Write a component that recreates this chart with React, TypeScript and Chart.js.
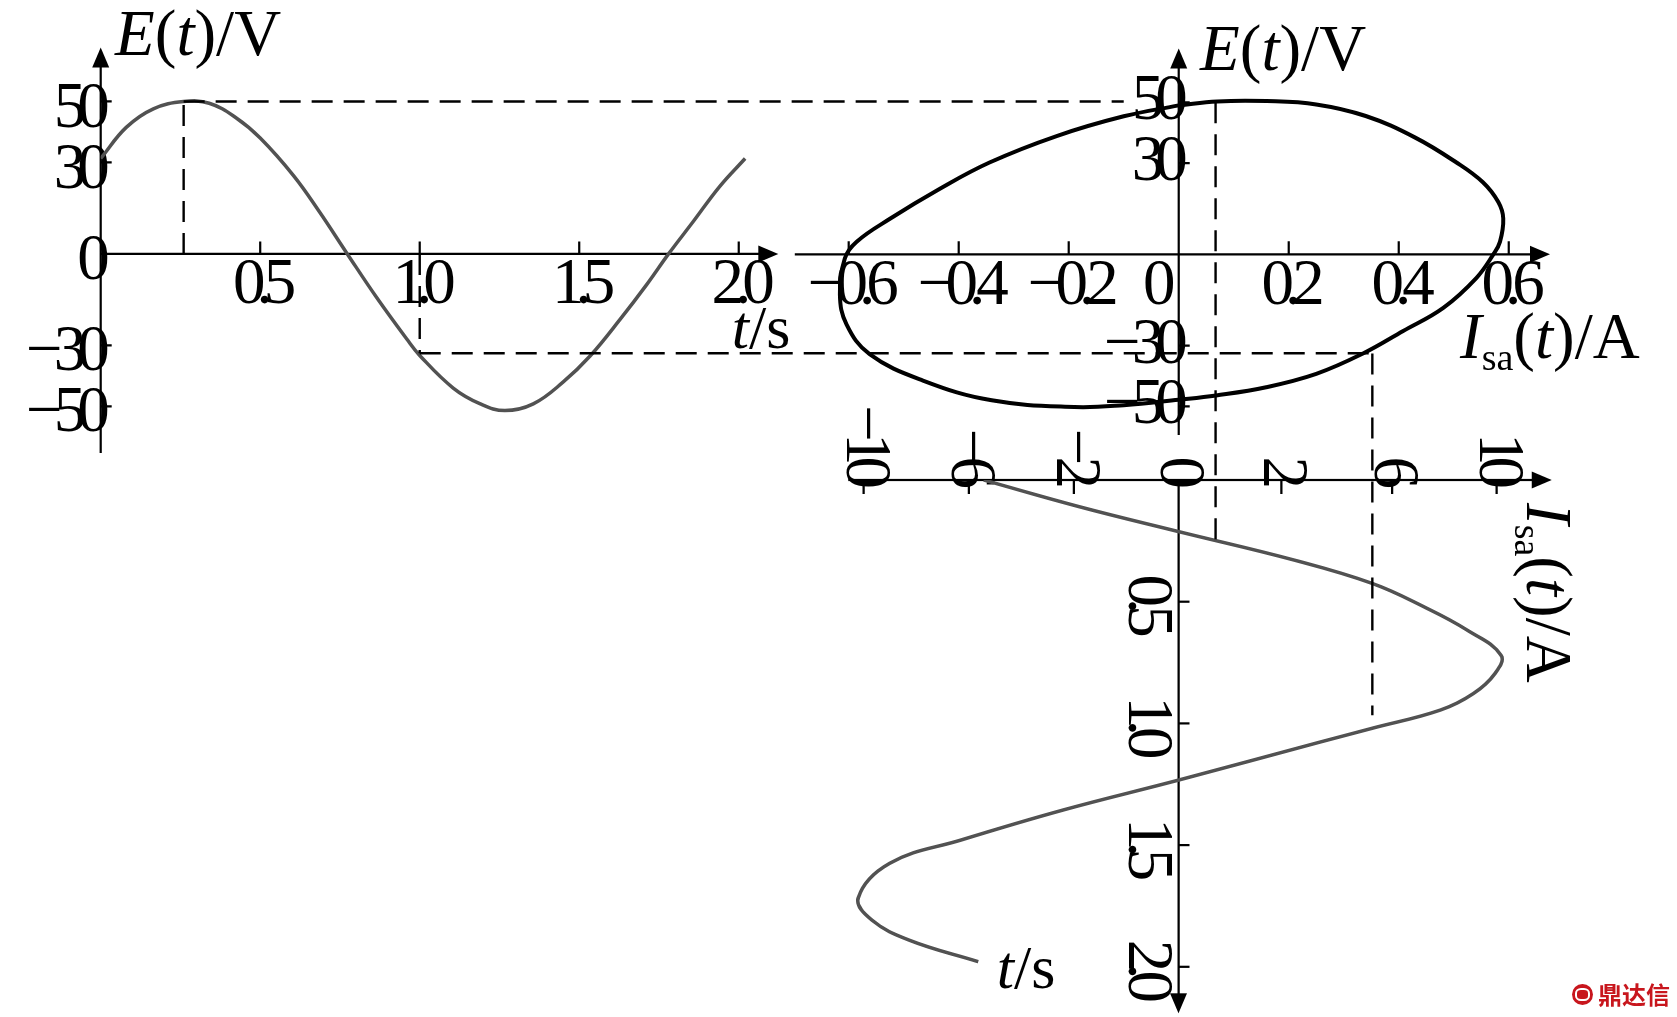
import React, { useEffect, useRef } from 'react';
import { Chart, registerables } from 'chart.js';

Chart.register(...registerables);

// ---------------- data ----------------
// Left panel: E(t) against t
const eTime = [0, 0.08, 0.165, 0.26, 0.34, 0.425, 0.5, 0.605, 0.685, 0.773, 0.865, 0.96, 1.0, 1.105, 1.19, 1.267, 1.356, 1.45, 1.534, 1.628, 1.712, 1.78, 1.858, 1.94, 2.02];
const eVolt = [31.3, 41.5, 47.6, 50, 49.4, 44.6, 38, 25.6, 13.9, 0, -14.3, -28, -33.3, -44, -49.2, -51.4, -49.2, -42, -33.5, -21.5, -10, 0, 10.7, 22.1, 31.3];

// Middle panel: loop E(t) against Isa(t)
const loopCurrent = [0, 0.07, 0.16, 0.25, 0.34, 0.43, 0.505, 0.553, 0.581, 0.59, 0.584, 0.572, 0.541, 0.481, 0.408, 0.335, 0.25, 0.159, 0.068, 0, -0.1, -0.19, -0.34, -0.465, -0.562, -0.604, -0.616, -0.607, -0.586, -0.525, -0.435, -0.344, -0.222, -0.1, 0];
const loopVolt = [49, 50.3, 50.4, 49.3, 45.5, 38.4, 30.2, 23.7, 17.2, 11.8, 4.1, 0, -7.8, -17.6, -25.2, -32.6, -39.3, -43.7, -46.4, -47.8, -49.6, -50.2, -48, -41.5, -32.8, -23, -13.2, -1.3, 4.1, 11.7, 21.5, 30.2, 38.9, 45.4, 49];

// Bottom panel: Isa(t) against t (time runs downward)
const isaTime = [0, 0.11, 0.212, 0.329, 0.425, 0.52, 0.616, 0.72, 0.795, 0.877, 0.945, 1.02, 1.078, 1.233, 1.356, 1.479, 1.575, 1.717, 1.808, 1.89, 1.979];
const isaCurrent = [-0.354, -0.18, 0, 0.21, 0.352, 0.445, 0.524, 0.586, 0.575, 0.536, 0.476, 0.352, 0.255, 0, -0.21, -0.395, -0.525, -0.582, -0.557, -0.49, -0.364];

// Tick values and labels
const leftXTicks = [0.5, 1.0, 1.5, 2.0];
const leftXLabels = ['0.5', '1.0', '1.5', '2.0'];
const leftYTicks = [50, 30, 0, -30, -50];
const leftYLabels = ['50', '30', '0', '−30', '−50'];
const midXTicks = [-0.6, -0.4, -0.2, 0.2, 0.4, 0.6];
const midXLabels = ['−0.6', '−0.4', '−0.2', '0.2', '0.4', '0.6'];
const midOriginTicks = [0];
const midOriginLabels = ['0'];
const midYTicks = [50, 30, -30, -50];
const midYLabels = ['50', '30', '−30', '−50'];
const botITicks = [-0.572, -0.381, -0.19, 0, 0.187, 0.388, 0.578];
const botILabels = ['−10', '−6', '−2', '0', '2', '6', '10'];
const botTTicks = [0.5, 1.0, 1.5, 2.0];
const botTLabels = ['0.5', '1.0', '1.5', '2.0'];

// Dashed guide lines
const guideTime = [0.26, 1.0];
const guideVolt = [50, -32.6];
const guideStopCurrent = [-0.1, 0.352];
const guideCurrent = [0.067, 0.352];
const guideEndTime = [0.244, 0.966];

// ---------------- layout ----------------
const PAGE_W = 1677;
const PAGE_H = 1017;
const BOT_W = 617; // unrotated width (time direction)
const BOT_H = 887; // unrotated height (current direction)
const BOT_LEFT = 1677;
const BOT_TOP = 400;

const SERIF = "'Liberation Serif', 'Times New Roman', serif";
const TICK_FONT = { family: SERIF, size: 65, lineHeight: 1 };
const CURVE_GRAY = '#525252';

type AxesCfg = {
  xFrom: number; xTo: number; yFrom: number; yTo: number;
  xTicks: number[]; yTicks: number[]; xTickLen: number; yTickLen: number;
};

const ARROW_LEN = 20;
const ARROW_HALF = 8.5;

function makeAxes(id: string, cfg: AxesCfg) {
  return {
    id,
    beforeDraw(chart: any) {
      chart.ctx.letterSpacing = '-9px';
    },
    beforeDatasetsDraw(chart: any) {
      const ctx = chart.ctx;
      const xs = chart.scales.x;
      const ys = chart.scales.y;
      const axisY = ys.getPixelForValue(0);
      const axisX = xs.getPixelForValue(0);
      const xa = xs.getPixelForValue(cfg.xFrom);
      const xb = xs.getPixelForValue(cfg.xTo);
      const ya = ys.getPixelForValue(cfg.yFrom);
      const yb = ys.getPixelForValue(cfg.yTo);
      ctx.save();
      ctx.setLineDash([]);
      ctx.strokeStyle = '#000';
      ctx.fillStyle = '#000';
      ctx.lineWidth = 2.2;
      ctx.beginPath();
      ctx.moveTo(xa, axisY);
      ctx.lineTo(xb - ARROW_LEN + 1, axisY);
      ctx.moveTo(axisX, ya);
      ctx.lineTo(axisX, yb + ARROW_LEN - 1);
      for (const v of cfg.xTicks) {
        if (v === 0) continue;
        const p = xs.getPixelForValue(v);
        ctx.moveTo(p, axisY);
        ctx.lineTo(p, axisY - cfg.xTickLen);
      }
      for (const v of cfg.yTicks) {
        if (v === 0) continue;
        const p = ys.getPixelForValue(v);
        ctx.moveTo(axisX, p);
        ctx.lineTo(axisX + cfg.yTickLen, p);
      }
      ctx.stroke();
      ctx.beginPath();
      ctx.moveTo(xb, axisY);
      ctx.lineTo(xb - ARROW_LEN, axisY - ARROW_HALF);
      ctx.lineTo(xb - ARROW_LEN, axisY + ARROW_HALF);
      ctx.closePath();
      ctx.fill();
      ctx.beginPath();
      ctx.moveTo(axisX, yb);
      ctx.lineTo(axisX - ARROW_HALF, yb + ARROW_LEN);
      ctx.lineTo(axisX + ARROW_HALF, yb + ARROW_LEN);
      ctx.closePath();
      ctx.fill();
      ctx.restore();
    },
  };
}

function tickScale(min: number, max: number, position: any, vals: number[], labels: string[], extra: any = {}) {
  return {
    type: 'linear',
    min,
    max,
    position,
    grid: { display: false, drawTicks: false },
    border: { display: false },
    afterBuildTicks: (axis: any) => {
      axis.ticks = vals.map((v) => ({ value: v }));
    },
    ticks: {
      autoSkip: false,
      maxRotation: 0,
      minRotation: 0,
      color: '#000',
      font: TICK_FONT,
      callback: (_v: any, i: number) => labels[i],
      ...extra,
    },
  };
}

function baseOptions(padding: any, scales: any) {
  return {
    responsive: false,
    animation: false,
    devicePixelRatio: 1,
    events: [],
    layout: { padding },
    plugins: { legend: { display: false }, tooltip: { enabled: false }, title: { display: false } },
    scales,
  };
}

const pts = (xs: number[], ys: number[]) => xs.map((x, i) => ({ x, y: ys[i] }));

export default function App() {
  const leftRef = useRef<HTMLCanvasElement>(null);
  const midRef = useRef<HTMLCanvasElement>(null);
  const botRef = useRef<HTMLCanvasElement>(null);

  useEffect(() => {
    // ---------- left chart ----------
    const L = { left: 100.7, right: 778.3, top: 45, bottom: 453 };
    const leftX = [0, 2.124];
    const leftY = [-65.3, 67.7];
    const left = new Chart(leftRef.current as HTMLCanvasElement, {
      type: 'scatter',
      data: {
        datasets: [{
          data: pts(eTime, eVolt),
          showLine: true,
          borderColor: CURVE_GRAY,
          borderWidth: 3.5,
          pointRadius: 0,
          tension: 0.4,
        }],
      },
      options: baseOptions(
        { left: L.left, right: PAGE_W - L.right, top: L.top, bottom: PAGE_H - L.bottom },
        {
          x: tickScale(leftX[0], leftX[1], { y: 0 }, leftXTicks, leftXLabels, { padding: 0 }),
          y: tickScale(leftY[0], leftY[1], { x: 0 }, leftYTicks, leftYLabels, { padding: 15, labelOffset: 8 }),
        }
      ) as any,
      plugins: [makeAxes('axesLeft', {
        xFrom: leftX[0], xTo: leftX[1], yFrom: leftY[0], yTo: leftY[1],
        xTicks: leftXTicks, yTicks: leftYTicks, xTickLen: 12.5, yTickLen: 11,
      })],
    } as any);

    // ---------- bottom chart (drawn unrotated, rotated 90deg by CSS) ----------
    const B = { left: 80, right: 613.3, top: 125.3, bottom: 828.7 };
    const botX = [0, 2.191];
    const botY = [-0.6, 0.678];
    const bottom = new Chart(botRef.current as HTMLCanvasElement, {
      type: 'scatter',
      data: {
        datasets: [{
          data: pts(isaTime, isaCurrent),
          showLine: true,
          borderColor: CURVE_GRAY,
          borderWidth: 3.5,
          pointRadius: 0,
          tension: 0.4,
        }],
      },
      options: baseOptions(
        { left: B.left, right: BOT_W - B.right, top: B.top, bottom: BOT_H - B.bottom },
        {
          x: tickScale(botX[0], botX[1], { y: 0 }, botTTicks, botTLabels, { padding: 0 }),
          y: tickScale(botY[0], botY[1], { x: 0 }, botITicks, botILabels, { padding: 16 }),
        }
      ) as any,
      plugins: [makeAxes('axesBottom', {
        xFrom: botX[0], xTo: botX[1], yFrom: botY[0], yTo: botY[1],
        xTicks: botTTicks, yTicks: botITicks, xTickLen: 11, yTickLen: 14,
      })],
    } as any);

    // ---------- middle chart (loop) with dashed guides ----------
    const M = { left: 794.8, right: 1550, top: 45, bottom: 435 };
    const midX = [-0.698, 0.675];
    const midY = [-59.4, 67.7];
    const guides = {
      id: 'guides',
      afterDatasetsDraw(chart: any) {
        const ctx = chart.ctx;
        const lx = left.scales.x;
        const ly = left.scales.y;
        const mx = chart.scales.x;
        const my = chart.scales.y;
        const bx = bottom.scales.x;
        ctx.save();
        ctx.strokeStyle = '#000';
        ctx.lineWidth = 2.4;
        ctx.setLineDash([21, 11]);
        for (let i = 0; i < guideTime.length; i++) {
          const x1 = lx.getPixelForValue(guideTime[i]);
          const y0 = ly.getPixelForValue(0);
          const y1 = ly.getPixelForValue(guideVolt[i]);
          const x2 = mx.getPixelForValue(guideStopCurrent[i]);
          const x3 = mx.getPixelForValue(guideCurrent[i]);
          const y3 = my.getPixelForValue(guideVolt[i]);
          const y4 = BOT_TOP + bx.getPixelForValue(guideEndTime[i]);
          ctx.beginPath();
          ctx.moveTo(x1, y0);
          ctx.lineTo(x1, y1);
          ctx.stroke();
          ctx.beginPath();
          ctx.moveTo(x1, y1);
          ctx.lineTo(x2, y1);
          ctx.stroke();
          ctx.beginPath();
          ctx.moveTo(x3, y3);
          ctx.lineTo(x3, y4);
          ctx.stroke();
        }
        ctx.restore();
      },
    };
    const middle = new Chart(midRef.current as HTMLCanvasElement, {
      type: 'scatter',
      data: {
        datasets: [{
          data: pts(loopCurrent, loopVolt),
          showLine: true,
          borderColor: '#000',
          borderWidth: 4,
          pointRadius: 0,
          tension: 0.4,
        }],
      },
      options: baseOptions(
        { left: M.left, right: PAGE_W - M.right, top: M.top, bottom: PAGE_H - M.bottom },
        {
          x: tickScale(midX[0], midX[1], { y: 0 }, midXTicks, midXLabels, { padding: 0 }),
          x0: { ...tickScale(midX[0], midX[1], { y: 0 }, midOriginTicks, midOriginLabels, { padding: 0, labelOffset: -24 }), axis: 'x' },
          y: tickScale(midY[0], midY[1], { x: 0 }, midYTicks, midYLabels, { padding: 16 }),
        }
      ) as any,
      plugins: [makeAxes('axesMid', {
        xFrom: midX[0], xTo: midX[1], yFrom: midY[0], yTo: midY[1],
        xTicks: midXTicks, yTicks: midYTicks, xTickLen: 13, yTickLen: 11,
      }), guides],
    } as any);

    return () => {
      middle.destroy();
      bottom.destroy();
      left.destroy();
    };
  }, []);

  const txt: React.CSSProperties = {
    position: 'absolute',
    fontFamily: SERIF,
    lineHeight: 1,
    whiteSpace: 'nowrap',
    color: '#000',
  };
  const it: React.CSSProperties = { fontStyle: 'italic' };
  const sub: React.CSSProperties = { fontSize: 38, verticalAlign: '-12px', fontStyle: 'normal' };

  return (
    <div style={{ position: 'fixed', left: 0, top: 0, width: PAGE_W, height: PAGE_H, background: '#fff', overflow: 'hidden' }}>
      <canvas ref={leftRef} width={PAGE_W} height={PAGE_H} style={{ position: 'absolute', left: 0, top: 0 }} />
      <canvas
        ref={botRef}
        width={BOT_W}
        height={BOT_H}
        style={{ position: 'absolute', left: BOT_LEFT, top: BOT_TOP, transformOrigin: '0 0', transform: 'rotate(90deg)' }}
      />
      <canvas ref={midRef} width={PAGE_W} height={PAGE_H} style={{ position: 'absolute', left: 0, top: 0 }} />

      <div style={{ ...txt, fontSize: 65, left: 115, top: 0.6 }}>
        <span style={it}>E</span>(<span style={it}>t</span>)/V
      </div>
      <div style={{ ...txt, fontSize: 65, left: 1200, top: 15.6 }}>
        <span style={it}>E</span>(<span style={it}>t</span>)/V
      </div>
      <div style={{ ...txt, fontSize: 62, left: 731.7, top: 296 }}>
        <span style={it}>t</span>/s
      </div>
      <div style={{ ...txt, fontSize: 65, left: 1460, top: 303.6 }}>
        <span style={it}>I</span><span style={sub}>sa</span>(<span style={it}>t</span>)/A
      </div>
      <div style={{ ...txt, fontSize: 65, left: 1581.4, top: 503, transformOrigin: '0 0', transform: 'rotate(90deg)' }}>
        <span style={it}>I</span><span style={sub}>sa</span>(<span style={it}>t</span>)/A
      </div>
      <div style={{ ...txt, fontSize: 62, left: 996.7, top: 936 }}>
        <span style={it}>t</span>/s
      </div>

      <div style={{ position: 'absolute', left: 1572, top: 982, display: 'flex', alignItems: 'center', gap: 5 }}>
        <div style={{ width: 21, height: 21, borderRadius: '50%', background: '#c8161d', display: 'flex', alignItems: 'center', justifyContent: 'center' }}>
          <div style={{ width: 11, height: 9, border: '2px solid #fff', borderRadius: '40%' }} />
        </div>
        <span style={{ fontFamily: "'Noto Sans CJK SC', sans-serif", fontWeight: 700, fontSize: 24, color: '#c8161d', lineHeight: 1 }}>鼎达信</span>
      </div>
    </div>
  );
}
